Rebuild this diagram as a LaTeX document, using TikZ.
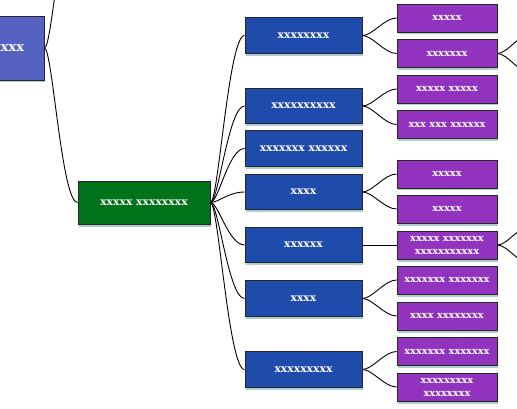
\documentclass[tikz,border=0pt]{standalone}
\usepackage{fontspec}
\setmainfont{DejaVu Serif}
\usetikzlibrary{shadows}

\definecolor{rootfill}{HTML}{5562C2}
\definecolor{mainfill}{HTML}{00731A}
\definecolor{topicfill}{HTML}{1F4BAD}
\definecolor{leaffill}{HTML}{9133BF}
\definecolor{boxline}{HTML}{262626}
\definecolor{glow}{HTML}{5E9C9C}

\begin{document}
\begin{tikzpicture}[x=1pt,y=-1pt,
  box/.style={draw=boxline,line width=0.9pt,text=white,align=center,inner sep=1pt,
    drop shadow={shadow xshift=0.8pt,shadow yshift=-2.5pt,fill=glow,opacity=0.5}},
  rootbox/.style={box,fill=rootfill,minimum width=94pt,minimum height=64pt,
    font=\fontsize{13}{15}\selectfont\bfseries},
  mainbox/.style={box,fill=mainfill,minimum width=132pt,minimum height=43pt,
    font=\fontsize{10.8}{13}\selectfont\bfseries},
  topicbox/.style={box,fill=topicfill,minimum width=117pt,minimum height=35.5pt,
    font=\fontsize{10.8}{13}\selectfont\bfseries},
  leafbox/.style={box,fill=leaffill,minimum width=100pt,minimum height=28pt,
    font=\fontsize{9.8}{13}\selectfont\bfseries},
  link/.style={draw=black,line width=0.9pt}
]
\clip (0,0) rectangle (517,409);

% root and main branch
\node[rootbox] (root) at (-3,48) {xxxxxxx};
\coordinate (rootup) at (78,-107);
\node[mainbox] (main) at (144,202.5) {xxxxx xxxxxxxx};

% topics
\node[topicbox] (t1) at (303.5,35.5) {xxxxxxxx};
\node[topicbox] (t2) at (303.5,106) {xxxxxxxxxx};
\node[topicbox] (t3) at (303.5,148.5) {xxxxxxx xxxxxx};
\node[topicbox] (t4) at (303.5,192) {xxxx};
\node[topicbox] (t5) at (303.5,245) {xxxxxx};
\node[topicbox] (t6) at (303.5,298.5) {xxxx};
\node[topicbox] (t7) at (303.5,369.5) {xxxxxxxxx};

% leaves
\node[leafbox] (l1) at (447,18) {xxxxx};
\node[leafbox] (l2) at (447,53.5) {xxxxxxx};
\node[leafbox] (l3) at (447,89) {xxxxx xxxxx};
\node[leafbox] (l4) at (447,124.5) {xxx xxx xxxxxx};
\node[leafbox] (l5) at (447,174) {xxxxx};
\node[leafbox] (l6) at (447,209) {xxxxx};
\node[leafbox] (l7) at (447,245) {xxxxx xxxxxxx\\xxxxxxxxxxx};
\node[leafbox] (l8) at (447,280) {xxxxxxx xxxxxxx};
\node[leafbox] (l9) at (447,316) {xxxx xxxxxxxx};
\node[leafbox] (l10) at (447,351.5) {xxxxxxx xxxxxxx};
\node[leafbox] (l11) at (447,387) {xxxxxxxxx\\xxxxxxxx};

% branches leaving the picture
\coordinate (l2up) at (532,33);
\coordinate (l2down) at (532,74);
\coordinate (l7up) at (532,225);
\coordinate (l7down) at (532,265);

% connectors
\draw[link] (root.east) .. controls +(8,0) and +(-16,0) .. (rootup);
\draw[link] (root.east) .. controls +(8,0) and +(-16,0) .. (main.west);
\foreach \t in {t1,t2,t3,t4,t5,t6,t7}
  \draw[link] (main.east) .. controls +(8,0) and +(-16,0) .. (\t.west);
\draw[link] (t1.east) .. controls +(10,0) and +(-12,0) .. (l1.west);
\draw[link] (t1.east) .. controls +(10,0) and +(-12,0) .. (l2.west);
\draw[link] (t2.east) .. controls +(10,0) and +(-12,0) .. (l3.west);
\draw[link] (t2.east) .. controls +(10,0) and +(-12,0) .. (l4.west);
\draw[link] (t4.east) .. controls +(10,0) and +(-12,0) .. (l5.west);
\draw[link] (t4.east) .. controls +(10,0) and +(-12,0) .. (l6.west);
\draw[link] (t5.east) -- (l7.west);
\draw[link] (t6.east) .. controls +(10,0) and +(-12,0) .. (l8.west);
\draw[link] (t6.east) .. controls +(10,0) and +(-12,0) .. (l9.west);
\draw[link] (t7.east) .. controls +(10,0) and +(-12,0) .. (l10.west);
\draw[link] (t7.east) .. controls +(10,0) and +(-12,0) .. (l11.west);
\draw[link] (l2.east) .. controls +(10,0) and +(-12,0) .. (l2up);
\draw[link] (l2.east) .. controls +(10,0) and +(-12,0) .. (l2down);
\draw[link] (l7.east) .. controls +(10,0) and +(-12,0) .. (l7up);
\draw[link] (l7.east) .. controls +(10,0) and +(-12,0) .. (l7down);
\end{tikzpicture}
\end{document}
